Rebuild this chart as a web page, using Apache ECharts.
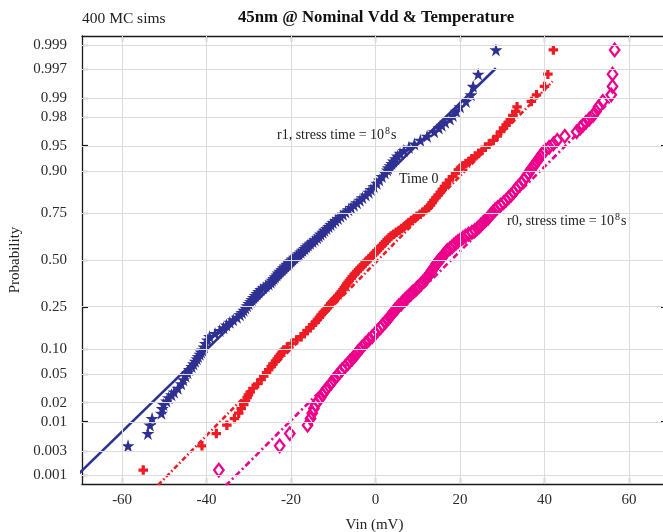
<!DOCTYPE html>
<html>
<head>
<meta charset="utf-8">
<script src="https://cdn.jsdelivr.net/npm/echarts@6/dist/echarts.min.js"></script>
<style>html,body{margin:0;padding:0;background:#fff}#c{width:663px;height:532px}</style>
</head>
<body>
<div id="c"></div>
<script>
// ---- data ----
const xTickValues = [-60, -40, -20, 0, 20, 40, 60];
const probTicks = [0.001, 0.003, 0.01, 0.02, 0.05, 0.10, 0.25, 0.50, 0.75, 0.90, 0.95, 0.98, 0.99, 0.997, 0.999];
const probTickLabels = ['0.001', '0.003', '0.01', '0.02', '0.05', '0.10', '0.25', '0.50', '0.75', '0.90', '0.95', '0.98', '0.99', '0.997', '0.999'];

// cumulative probability of the sorted samples shown (400 MC runs)
const probLevels = [
  0.00125, 0.00375, 0.00625, 0.00875, 0.01125, 0.01375, 0.01625, 0.01875, 0.02125, 0.02375, 0.02625, 0.02875,
  0.0325, 0.0375, 0.0425, 0.0475, 0.0525, 0.0575, 0.0625, 0.0675, 0.0725, 0.0775, 0.0825, 0.0875, 0.0925, 0.0975,
  0.105, 0.115, 0.125, 0.135, 0.145, 0.155, 0.165, 0.175, 0.185, 0.195,
  0.205, 0.215, 0.225, 0.235, 0.245, 0.255, 0.265, 0.275, 0.285, 0.295,
  0.305, 0.315, 0.325, 0.335, 0.345, 0.355, 0.365, 0.375, 0.385, 0.395,
  0.405, 0.415, 0.425, 0.435, 0.445, 0.455, 0.465, 0.475, 0.485, 0.495,
  0.505, 0.515, 0.525, 0.535, 0.545, 0.555, 0.565, 0.575, 0.585, 0.595,
  0.605, 0.615, 0.625, 0.635, 0.645, 0.655, 0.665, 0.675, 0.685, 0.695,
  0.705, 0.715, 0.725, 0.735, 0.745, 0.755, 0.765, 0.775, 0.785, 0.795,
  0.805, 0.815, 0.825, 0.835, 0.845, 0.855, 0.865, 0.875, 0.885, 0.895,
  0.9025, 0.9075, 0.9125, 0.9175, 0.9225, 0.9275, 0.9325, 0.9375, 0.9425, 0.9475, 0.9525, 0.9575, 0.9625, 0.9675,
  0.97125, 0.97375, 0.97625, 0.97875, 0.98125, 0.98375, 0.98625, 0.98875, 0.99125, 0.99375, 0.99625, 0.99875];

// Vin (mV) of r1, stress time = 1e8 s (lowest sample lies left of the plotted range)
const vinR1 = [
  null, -58.6, -53.9, -53.4, -52.9, -50.7, -50.5, -50.2, -49.5, -49.0, -48.3, -47.7,
  -46.8, -46.0, -45.5, -45.0, -44.5, -44.1, -43.5, -43.1, -42.7, -42.3, -42.0, -41.6, -41.3, -41.0,
  -40.6, -40.3, -39.8, -39.3, -38.0, -36.9, -36.0, -35.3, -34.5, -33.7,
  -32.8, -32.1, -31.6, -31.2, -30.8, -30.4, -30.0, -29.6, -29.3, -28.9,
  -28.5, -28.1, -27.7, -27.2, -26.6, -26.0, -25.3, -24.8, -24.5, -24.1,
  -23.8, -23.4, -23.1, -22.7, -22.2, -21.8, -21.4, -21.0, -20.5, -20.1,
  -19.7, -19.2, -18.7, -18.2, -17.7, -17.3, -16.8, -16.4, -16.0, -15.5,
  -14.9, -14.4, -13.8, -13.4, -13.0, -12.5, -12.1, -11.6, -11.1, -10.6,
  -10.1, -9.5, -8.9, -8.3, -7.7, -7.1, -6.4, -5.8, -5.1, -4.4,
  -3.7, -3.1, -2.3, -1.6, -1.1, -0.4, 0.3, 0.9, 1.5, 2.2,
  2.8, 3.0, 3.4, 3.8, 4.2, 4.7, 5.2, 5.8, 6.7, 7.9, 9.2, 10.6, 12.2, 13.9,
  15.0, 15.7, 16.5, 17.6, 18.3, 19.1, 20.0, 21.4, 22.6, 23.1, 24.3, 28.5];
// Vin (mV) at time 0
const vinT0 = [
  -55.0, -41.1, -37.7, -35.2, -33.4, -32.4, -31.8, -31.2, -30.8, -30.4, -30.1, -29.7,
  -29.0, -27.9, -27.1, -26.5, -25.8, -25.3, -24.7, -24.3, -23.7, -23.3, -22.9, -22.5, -22.1, -21.7,
  -20.9, -19.8, -18.7, -17.6, -16.9, -16.2, -15.5, -14.9, -14.3, -13.8,
  -13.3, -12.9, -12.4, -11.9, -11.4, -11.0, -10.6, -10.2, -9.7, -9.2,
  -8.8, -8.4, -8.1, -7.7, -7.4, -7.1, -6.8, -6.5, -6.2, -5.8,
  -5.5, -5.1, -4.8, -4.4, -4.0, -3.6, -3.2, -2.8, -2.4, -2.0,
  -1.6, -1.2, -0.8, -0.4, 0.0, 0.4, 0.8, 1.2, 1.6, 2.0,
  2.4, 2.8, 3.2, 3.7, 4.3, 4.9, 5.6, 6.2, 6.8, 7.4,
  7.9, 8.5, 9.2, 9.8, 10.6, 11.2, 11.9, 12.5, 13.0, 13.4,
  13.8, 14.3, 14.8, 15.3, 15.8, 16.3, 16.8, 17.5, 18.2, 19.0,
  19.6, 20.1, 20.7, 21.4, 22.2, 22.8, 23.6, 24.4, 25.2, 26.0, 26.9, 27.9, 28.8, 29.6,
  30.3, 30.9, 31.4, 31.9, 32.5, 33.2, 33.5, 36.9, 38.1, 40.0, 40.8, 42.1];
// Vin (mV) of r0, stress time = 1e8 s
const vinR0 = [
  -37.1, -22.7, -20.3, -16.1, -15.4, -15.0, -14.6, -14.2, -13.6, -13.0, -12.6, -12.2,
  -11.5, -10.6, -9.9, -9.2, -8.5, -7.9, -7.2, -6.6, -6.1, -5.5, -5.0, -4.6, -4.2, -3.8,
  -3.2, -2.4, -1.6, -0.8, -0.1, 0.5, 1.2, 1.7, 2.3, 2.8,
  3.3, 3.7, 4.2, 4.6, 5.1, 5.5, 6.1, 6.5, 7.0, 7.5,
  8.0, 8.5, 8.9, 9.5, 9.9, 10.4, 10.8, 11.2, 11.6, 12.0,
  12.3, 12.7, 12.9, 13.2, 13.5, 13.8, 14.1, 14.3, 14.6, 15.0,
  15.3, 15.7, 16.0, 16.3, 16.7, 17.0, 17.6, 18.1, 18.5, 19.0,
  19.5, 20.1, 20.7, 21.3, 22.0, 22.8, 23.5, 24.1, 24.6, 25.0,
  25.5, 26.0, 26.6, 27.0, 27.4, 27.8, 28.3, 28.9, 29.6, 30.3,
  30.9, 31.5, 32.1, 32.7, 33.2, 33.8, 34.5, 35.1, 35.7, 36.2,
  36.7, 37.1, 37.5, 37.8, 38.2, 38.7, 39.1, 39.5, 40.2, 41.1, 42.1, 43.0, 44.8, 47.6,
  48.5, 49.1, 49.8, 50.6, 51.5, 52.2, 52.8, 53.8, 55.8, 56.1, 56.1, 56.6];

// normal fit lines: [Vin, probability] end points
const fitR1 = [[-71, 0.00091], [28.5, 0.9971]];
const fitT0 = [[-51.5, 0.0006], [41.9, 0.9949]];
const fitR0 = [[-35.5, 0.00058], [56, 0.9897]];

// ---- probability (normal) scale ----
function probit(p) {
  const a = [-3.969683028665376e+01, 2.209460984245205e+02, -2.759285104469687e+02, 1.383577518672690e+02, -3.066479806614716e+01, 2.506628277459239e+00];
  const b = [-5.447609879822406e+01, 1.615858368580409e+02, -1.556989798598866e+02, 6.680131188771972e+01, -1.328068155288572e+01];
  const c = [-7.784894002430293e-03, -3.223964580411365e-01, -2.400758277161838e+00, -2.549732539343734e+00, 4.374664141464968e+00, 2.938163982698783e+00];
  const d = [7.784695709041462e-03, 3.224671290700398e-01, 2.445134137142996e+00, 3.754408661907416e+00];
  const plow = 0.02425, phigh = 1 - plow;
  let q, r;
  if (p < plow) {
    q = Math.sqrt(-2 * Math.log(p));
    return (((((c[0]*q+c[1])*q+c[2])*q+c[3])*q+c[4])*q+c[5]) / ((((d[0]*q+d[1])*q+d[2])*q+d[3])*q+1);
  } else if (p <= phigh) {
    q = p - 0.5; r = q*q;
    return (((((a[0]*r+a[1])*r+a[2])*r+a[3])*r+a[4])*r+a[5])*q / (((((b[0]*r+b[1])*r+b[2])*r+b[3])*r+b[4])*r+1);
  } else {
    q = Math.sqrt(-2 * Math.log(1 - p));
    return -(((((c[0]*q+c[1])*q+c[2])*q+c[3])*q+c[4])*q+c[5]) / ((((d[0]*q+d[1])*q+d[2])*q+d[3])*q+1);
  }
}
const zTicks = probTicks.map(probit);
function toPts(xs) {
  const out = [];
  xs.forEach((x, i) => { if (x !== null && i < probLevels.length) out.push([x, probit(probLevels[i])]); });
  return out;
}
const fitPts = f => f.map(d => [d[0], probit(d[1])]);

const BLUE = '#2E3192', RED = '#ED1C24', MAG = '#EC008C';
const FONT = 'Liberation Serif';
const STAR = 'path://M50,0 L61.2,34.5 L97.6,34.5 L68.2,55.9 L79.4,90.5 L50,69.1 L20.6,90.5 L31.8,55.9 L2.4,34.5 L38.8,34.5 Z';
const PLUS = 'path://M3.3,0H6.7V3.3H10V6.7H6.7V10H3.3V6.7H0V3.3H3.3Z';

const XMIN = -69.5, XMAX = 69, ZMIN = -3.223, ZMAX = 3.223;

const chart = echarts.init(document.getElementById('c'), null, {renderer: 'canvas'});
const axisLineStyle = {color: '#1a1a1a', width: 1.3};
const tickStyle = {color: '#1a1a1a', width: 1.2};
const annRich = {
  a: {fontFamily: FONT, fontSize: 14, fontWeight: 'normal', color: '#222', lineHeight: 18},
  s: {fontFamily: FONT, fontSize: 10, fontWeight: 'normal', color: '#222', lineHeight: 18, verticalAlign: 'top', padding: [0, 1, 0, 1]}
};
const option = {
  animation: false,
  backgroundColor: '#fff',
  title: [
    {text: '45nm @ Nominal Vdd & Temperature', left: 376, top: 9, textAlign: 'center', padding: 0,
      textStyle: {fontFamily: FONT, fontWeight: 'bold', fontSize: 16.8, color: '#111'}},
    {text: '400 MC sims', left: 82, top: 11, padding: 0,
      textStyle: {fontFamily: FONT, fontWeight: 'normal', fontSize: 15.5, color: '#222'}},
    {text: '{a|r1, stress time = 10}{s|8}{a|s}', left: 277, top: 126, padding: 0,
      textStyle: {fontWeight: 'normal', rich: annRich}},
    {text: 'Time 0', left: 399, top: 172, padding: 0,
      textStyle: {fontFamily: FONT, fontWeight: 'normal', fontSize: 14, color: '#222'}},
    {text: '{a|r0, stress time = 10}{s|8}{a|s}', left: 507, top: 212, padding: 0,
      textStyle: {fontWeight: 'normal', rich: annRich}}
  ],
  grid: {left: 82, top: 36, width: 585, height: 448, containLabel: false, outerBoundsMode: 'none'},
  xAxis: [
    {type: 'value', min: XMIN, max: XMAX, position: 'bottom',
      name: 'Vin (mV)', nameLocation: 'middle', nameGap: 34,
      nameTextStyle: {fontFamily: FONT, fontSize: 15, color: '#222'},
      axisLine: {show: true, onZero: false, lineStyle: axisLineStyle},
      axisTick: {show: true, inside: true, length: 6, customValues: xTickValues, lineStyle: tickStyle},
      axisLabel: {show: true, margin: 9, customValues: xTickValues, fontFamily: FONT, fontSize: 15, color: '#2b2b2b', formatter: v => String(v)},
      splitLine: {show: false}},
    {type: 'value', min: XMIN, max: XMAX, position: 'top',
      axisLine: {show: true, onZero: false, lineStyle: axisLineStyle},
      axisTick: {show: true, inside: true, length: 6, customValues: xTickValues, lineStyle: tickStyle},
      axisLabel: {show: false}, splitLine: {show: false}}
  ],
  yAxis: [
    {type: 'value', min: ZMIN, max: ZMAX, position: 'left',
      name: 'Probability', nameLocation: 'middle', nameGap: 56, nameRotate: 90,
      nameTextStyle: {fontFamily: FONT, fontSize: 15, color: '#222'},
      axisLine: {show: true, onZero: false, lineStyle: axisLineStyle},
      axisTick: {show: true, inside: true, length: 6, customValues: zTicks, lineStyle: tickStyle},
      axisLabel: {show: true, margin: 15, customValues: zTicks, fontFamily: FONT, fontSize: 15, color: '#2b2b2b',
        formatter: v => { const i = zTicks.findIndex(z => Math.abs(z - v) < 1e-6); return i >= 0 ? probTickLabels[i] : ''; }},
      splitLine: {show: false}},
    {type: 'value', min: ZMIN, max: ZMAX, position: 'right',
      axisLine: {show: true, onZero: false, lineStyle: axisLineStyle},
      axisTick: {show: true, inside: true, length: 6, customValues: zTicks, lineStyle: tickStyle},
      axisLabel: {show: false}, splitLine: {show: false}}
  ],
  series: [
    {type: 'line', data: [], z: 1, silent: true,
      markLine: {silent: true, symbol: ['none', 'none'], label: {show: false},
        lineStyle: {color: '#dcdcdc', width: 1, type: 'solid'},
        data: xTickValues.map(v => ({xAxis: v})).concat(zTicks.map(v => ({yAxis: v})))}},
    {name: 'r1 fit', type: 'line', data: fitPts(fitR1), showSymbol: false, symbol: 'none', z: 4,
      lineStyle: {color: BLUE, width: 2.6, type: 'solid'}},
    {name: 'time0 fit', type: 'line', data: fitPts(fitT0), showSymbol: false, symbol: 'none', z: 4,
      lineStyle: {color: RED, width: 2.6, type: [5, 2.5, 1.5, 2.5]}},
    {name: 'r0 fit', type: 'line', data: fitPts(fitR0), showSymbol: false, symbol: 'none', z: 4,
      lineStyle: {color: MAG, width: 2.6, type: [6, 3, 2, 3]}},
    {name: 'r1', type: 'scatter', data: toPts(vinR1), symbol: STAR, symbolSize: 13, z: 3,
      itemStyle: {color: BLUE, opacity: 1}},
    {name: 'time0', type: 'scatter', data: toPts(vinT0), symbol: PLUS, symbolSize: 9.5, z: 3,
      itemStyle: {color: RED, opacity: 1}},
    {name: 'r0', type: 'scatter', data: toPts(vinR0), symbol: 'diamond', symbolSize: [9.5, 12.5], z: 3,
      itemStyle: {color: 'rgba(255,255,255,0)', borderColor: MAG, borderWidth: 2.3, opacity: 1}}
  ]
};
chart.setOption(option);
</script>
</body>
</html>
